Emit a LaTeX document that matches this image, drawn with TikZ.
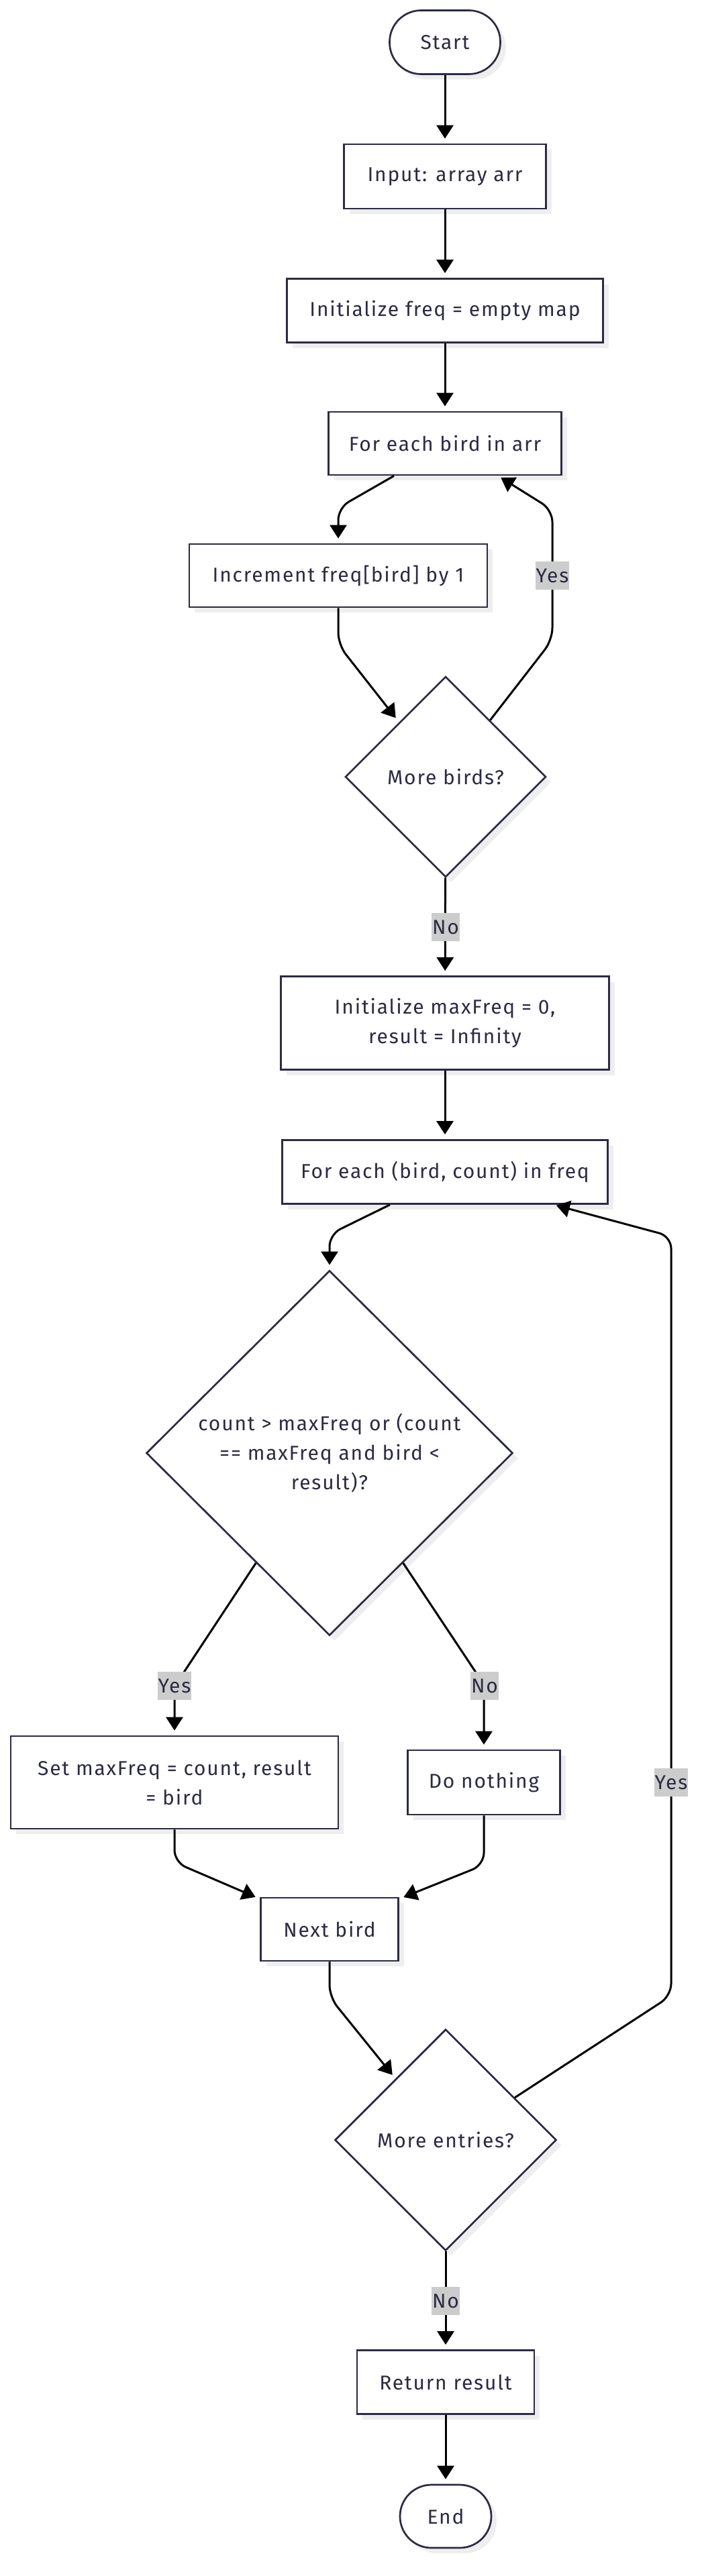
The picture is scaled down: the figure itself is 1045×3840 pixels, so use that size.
\documentclass[tikz,border=0pt]{standalone}
\usepackage{fontspec}
\setmainfont{Fira Sans}[LetterSpace=6]
\usetikzlibrary{shapes.geometric,arrows.meta,shadows,calc}
\definecolor{nodestroke}{HTML}{2B2B45}
\definecolor{textcol}{HTML}{2B2B45}
\definecolor{lblbg}{HTML}{CCCCCC}
\definecolor{shadowcol}{HTML}{EEEEEE}
\begin{document}
\begin{tikzpicture}[x=1pt,y=-1pt,
 base/.style={draw=nodestroke, line width=2.7pt, fill=white, text=textcol, font=\fontsize{30}{44}\selectfont, align=center, inner sep=0pt, drop shadow={shadow xshift=8pt, shadow yshift=-8pt, fill=shadowcol, opacity=1}},
 procbox/.style={base, rectangle},
 termbox/.style={base, rectangle, rounded corners=47pt},
 decbox/.style={base, diamond},
 conn/.style={line width=3pt, black, -{Triangle[length=20pt,width=25pt]}, rounded corners=18pt, shorten >=7pt},
 elabel/.style={fill=lblbg, text=textcol, font=\fontsize{30}{44}\selectfont, inner xsep=1pt, inner ysep=0pt, minimum height=42pt}
]
\fill[white] (0,0) rectangle (1045,3840);
\useasboundingbox (0,0) rectangle (1045,3840);

\node[termbox, minimum width=165pt, minimum height=95pt] (start) at (663,63) {Start};
\node[procbox, minimum width=301pt, minimum height=96pt] (input) at (663,263) {Input: array arr};
\node[procbox, minimum width=471pt, minimum height=95pt] (initf) at (663,463) {Initialize freq = empty map};
\node[procbox, minimum width=347pt, minimum height=94pt] (foreach1) at (663,661) {For each bird in arr};
\node[procbox, minimum width=444pt, minimum height=94pt] (incr) at (504,858) {Increment freq[bird] by 1};
\node[decbox, minimum width=299pt, minimum height=299pt] (morebirds) at (664,1158) {More birds?};
\node[procbox, minimum width=489pt, minimum height=139pt] (initmax) at (663,1525) {Initialize maxFreq = 0,\\ result = Infinity};
\node[procbox, minimum width=485pt, minimum height=95pt] (foreach2) at (663,1747) {For each (bird, count) in freq};
\node[decbox, minimum width=546pt, minimum height=544pt] (cond) at (491,2166) {count > maxFreq or (count\\ == maxFreq and bird <\\ result)?};
\node[procbox, minimum width=488pt, minimum height=138pt] (setmax) at (260,2657) {Set maxFreq = count, result\\ = bird};
\node[procbox, minimum width=227pt, minimum height=96pt] (donothing) at (721,2657) {Do nothing};
\node[procbox, minimum width=205pt, minimum height=94pt] (nextbird) at (491,2876) {Next bird};
\node[decbox, minimum width=330pt, minimum height=330pt] (moreentries) at (664,3190) {More entries?};
\node[procbox, minimum width=264pt, minimum height=95pt] (ret) at (664,3551) {Return result};
\node[termbox, minimum width=136pt, minimum height=94pt] (endnode) at (664,3751) {End};

\draw[conn] (start) -- (input);
\draw[conn] (input) -- (initf);
\draw[conn] (initf) -- (foreach1);
\draw[conn] ($(foreach1.south)+(-76,0)$) -- (504,757) -- (incr);
\draw[conn, shorten >=8pt] (incr) -- (504,961) -- ($(morebirds.north)!0.46!(morebirds.west)$);
\draw[conn, shorten >=5pt] ($(morebirds.north)!0.44!(morebirds.east)$) -- (823,954) -- (823,760) -- ($(foreach1.south)+(79,0)$);
\draw[conn] (morebirds) -- (initmax);
\draw[conn] (initmax) -- (foreach2);
\draw[conn] ($(foreach2.south)+(-82,0)$) -- (491,1840) -- (cond);
\draw[conn] ($(cond.west)!0.6!(cond.south)$) -- (260,2514) -- (setmax);
\draw[conn] ($(cond.east)!0.6!(cond.south)$) -- (721,2511) -- (donothing);
\draw[conn] (setmax) -- (260,2776) -- ($(nextbird.north west)+(0,3)$);
\draw[conn] (donothing) -- (721,2780) -- ($(nextbird.north east)+(0,3)$);
\draw[conn] (nextbird) -- (491,2977) -- ($(moreentries.north)!0.45!(moreentries.west)$);
\draw[conn, shorten >=4pt] ($(moreentries.north)!0.62!(moreentries.east)$) -- (1000,2975) -- (1000,1843) -- ($(foreach2.south)+(162,0)$);
\draw[conn] (moreentries) -- (ret);
\draw[conn] (ret) -- (endnode);

\node[elabel] (l1) at (823,858) {Yes};
\node[elabel] (l2) at (664,1382) {No};
\node[elabel] (l3) at (260,2513) {Yes};
\node[elabel] (l4) at (722,2513) {No};
\node[elabel] (l5) at (1000,2657) {Yes};
\node[elabel] (l6) at (664,3430) {No};
\end{tikzpicture}
\end{document}
